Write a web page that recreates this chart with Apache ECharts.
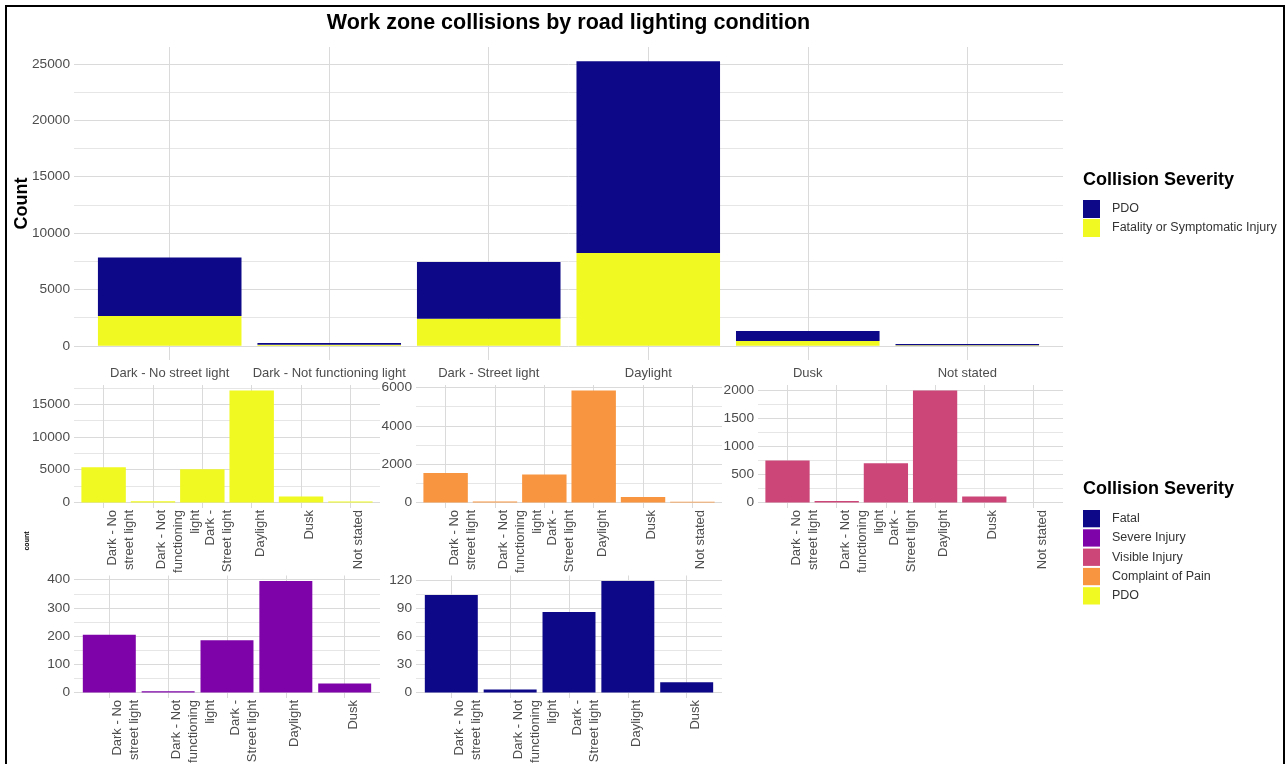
<!DOCTYPE html>
<html>
<head>
<meta charset="utf-8">
<script src="https://cdn.jsdelivr.net/npm/echarts@6/dist/echarts.min.js"></script>
<style>
html,body{margin:0;padding:0;background:#fff;}
#chart{width:1286px;height:764px;}
</style>
</head>
<body>
<div id="chart"></div>
<script>
// ---------------- data ----------------
const lighting = ['Dark - No street light', 'Dark - Not functioning light', 'Dark - Street light', 'Daylight', 'Dusk', 'Not stated'];
const lightingWrapped = ['Dark - No\nstreet light', 'Dark - Not\nfunctioning\nlight', 'Dark -\nStreet light', 'Daylight', 'Dusk', 'Not stated'];
const lightingWrapped5 = ['Dark - No\nstreet light', 'Dark - Not\nfunctioning\nlight', 'Dark -\nStreet light', 'Daylight', 'Dusk'];

const topLegend = ['PDO', 'Fatality or Symptomatic Injury'];
const topPDO = [5210, 150, 5030, 17010, 890, 110];
const topFSI = [2630, 100, 2400, 8230, 415, 40];

const severityLegend = ['Fatal', 'Severe Injury', 'Visible Injury', 'Complaint of Pain', 'PDO'];
const pdoCounts = [5390, 170, 5085, 17085, 915, 150];
const painCounts = [1530, 50, 1460, 5840, 278, 40];
const visibleCounts = [748, 24, 700, 1994, 107, 0];
const severeCounts = [205, 4, 185, 395, 32];
const fatalCounts = [104, 3, 86, 119, 11];

const topTicks = [0, 5000, 10000, 15000, 20000, 25000];
const topMinor = [2500, 7500, 12500, 17500, 22500];
const pdoTicks = [0, 5000, 10000, 15000];
const pdoMinor = [2500, 7500, 12500, 17500];
const painTicks = [0, 2000, 4000, 6000];
const painMinor = [1000, 3000, 5000];
const visibleTicks = [0, 500, 1000, 1500, 2000];
const visibleMinor = [250, 750, 1250, 1750];
const severeTicks = [0, 100, 200, 300, 400];
const severeMinor = [50, 150, 250, 350];
const fatalTicks = [0, 30, 60, 90, 120];
const fatalMinor = [15, 45, 75, 105];

// ---------------- styling / layout ----------------
const FONT = "'Liberation Sans',Arial,sans-serif";
const AXIS_TEXT = '#4d4d4d';
const MAJOR = '#dadada';
const MINOR = '#e6e6e6';
const C = {fatal: '#0d0887', severe: '#7e03a8', visible: '#cc4778', pain: '#f89540', pdo: '#f0f921'};

function expandRange(maxVal) { return [-0.05 * maxVal, 1.05 * maxVal]; }
function indices(n) { return Array.from({length: n}, (_, i) => i); }

const grids = [], xAxes = [], yAxes = [], series = [];

function addPanel(cfg) {
  const gi = grids.length;
  grids.push({left: cfg.left, top: cfg.top, width: cfg.width, height: cfg.height,
              containLabel: false, outerBoundsMode: 'none'});
  const n = cfg.labels.length;
  const pos = indices(n);
  const labelCfg = {
    customValues: pos,
    formatter: v => cfg.labels[Math.round(v)],
    showMinLabel: true, showMaxLabel: true, hideOverlap: false,
    color: AXIS_TEXT, fontFamily: FONT, fontSize: 13, margin: cfg.labelMargin
  };
  if (cfg.rotate) {
    Object.assign(labelCfg, {rotate: 90, align: 'right', verticalAlign: 'top', lineHeight: 17});
  }
  xAxes.push({
    type: 'value', gridIndex: gi, min: -0.6, max: n - 0.4,
    axisLine: {show: false, onZero: false},
    axisTick: {show: false, customValues: pos},
    axisLabel: labelCfg,
    splitLine: {show: true, lineStyle: {color: MAJOR, width: 1}}
  });
  const [lo, hi] = cfg.range;
  const yMajor = {
    type: 'value', gridIndex: gi, min: lo, max: hi, position: 'left',
    axisLine: {show: false},
    axisTick: {show: false, customValues: cfg.ticks},
    axisLabel: {customValues: cfg.ticks, formatter: v => String(v), showMinLabel: true, showMaxLabel: true,
                color: AXIS_TEXT, fontFamily: FONT, fontSize: 13.7, margin: 4},
    splitLine: {show: true, lineStyle: {color: MAJOR, width: 1}}
  };
  if (cfg.yName) Object.assign(yMajor, cfg.yName);
  yAxes.push(yMajor);
  yAxes.push({
    type: 'value', gridIndex: gi, min: lo, max: hi, position: 'right',
    axisLine: {show: false},
    axisTick: {show: false, customValues: cfg.minor},
    axisLabel: {show: false, customValues: cfg.minor},
    splitLine: {show: true, lineStyle: {color: MINOR, width: 1}}
  });
  return {xAxisIndex: gi, yAxisIndex: 2 * gi};
}

// top stacked chart
const topTotals = topPDO.map((v, i) => v + topFSI[i]);
const topAx = addPanel({
  left: 74, top: 47, width: 989, height: 313,
  labels: lighting, labelMargin: 7,
  range: expandRange(Math.max(...topTotals)),
  ticks: topTicks, minor: topMinor,
  yName: {name: 'Count', nameLocation: 'middle', nameGap: 43, nameRotate: 90, nameMoveOverlap: false,
          nameTextStyle: {fontFamily: FONT, fontSize: 18, fontWeight: 'bold', color: '#000'}}
});
// value listed first so that the stack is computed on the y (count) dimension
series.push({type: 'bar', name: 'Fatality or Symptomatic Injury', stack: 'top', barWidth: '90%',
  xAxisIndex: topAx.xAxisIndex, yAxisIndex: topAx.yAxisIndex, encode: {x: 1, y: 0},
  data: topFSI.map((v, i) => [v, i]), itemStyle: {color: C.pdo}});
series.push({type: 'bar', name: 'PDO', stack: 'top', barWidth: '90%',
  xAxisIndex: topAx.xAxisIndex, yAxisIndex: topAx.yAxisIndex, encode: {x: 1, y: 0},
  data: topPDO.map((v, i) => [v, i]), itemStyle: {color: C.fatal}});

// small multiples
const panels = [
  {name: 'PDO ', values: pdoCounts, ticks: pdoTicks, minor: pdoMinor, color: C.pdo, labels: lightingWrapped, left: 74, top: 385, width: 306, height: 123},
  {name: 'Complaint of Pain', values: painCounts, ticks: painTicks, minor: painMinor, color: C.pain, labels: lightingWrapped, left: 416, top: 385, width: 306, height: 123},
  {name: 'Visible Injury', values: visibleCounts, ticks: visibleTicks, minor: visibleMinor, color: C.visible, labels: lightingWrapped, left: 758, top: 385, width: 305, height: 123},
  {name: 'Severe Injury', values: severeCounts, ticks: severeTicks, minor: severeMinor, color: C.severe, labels: lightingWrapped5, left: 74, top: 575.5, width: 306, height: 122.5},
  {name: 'Fatal', values: fatalCounts, ticks: fatalTicks, minor: fatalMinor, color: C.fatal, labels: lightingWrapped5, left: 416, top: 575.5, width: 306, height: 122.5}
];
panels.forEach(p => {
  const ax = addPanel({
    left: p.left, top: p.top, width: p.width, height: p.height,
    labels: p.labels, labelMargin: 2, rotate: true,
    range: expandRange(Math.max(...p.values)),
    ticks: p.ticks, minor: p.minor
  });
  series.push({type: 'bar', name: p.name, barWidth: '90%',
    xAxisIndex: ax.xAxisIndex, yAxisIndex: ax.yAxisIndex,
    data: p.values.map((v, i) => [i, v]), itemStyle: {color: p.color}});
});

const legendText = {fontFamily: FONT, fontSize: 12.5, color: '#333', padding: [0, 0, 0, 7]};
const titleFont = {fontFamily: FONT, fontSize: 18, fontWeight: 'bold', color: '#000'};

const option = {
  animation: false,
  backgroundColor: '#fff',
  title: [
    {text: 'Work zone collisions by road lighting condition', left: 568.5, top: 12, padding: 0, textAlign: 'center',
     textStyle: {fontFamily: FONT, fontSize: 21.5, fontWeight: 'bold', color: '#000'}},
    {text: 'Collision Severity', left: 1083, top: 171, padding: 0, textAlign: 'left', textStyle: titleFont},
    {text: 'Collision Severity', left: 1083, top: 480, padding: 0, textAlign: 'left', textStyle: titleFont}
  ],
  legend: [
    {data: topLegend, orient: 'vertical', left: 1083, top: 200, padding: 0, icon: 'rect',
     itemWidth: 17, itemHeight: 18, itemGap: 1, selectedMode: false, textStyle: legendText},
    {data: severityLegend.map(s => s === 'PDO' ? 'PDO ' : s), orient: 'vertical', left: 1083, top: 510, padding: 0, icon: 'rect',
     itemWidth: 17, itemHeight: 17.3, itemGap: 2, selectedMode: false, textStyle: legendText,
     formatter: n => n.trim()}
  ],
  grid: grids,
  xAxis: xAxes,
  yAxis: yAxes,
  series: series,
  graphic: [
    {type: 'rect', silent: true, z: 100, shape: {x: 6, y: 6, width: 1278, height: 820},
     style: {fill: 'none', stroke: '#000', lineWidth: 2}},
    {type: 'text', silent: true, x: 27, y: 541, rotation: Math.PI / 2,
     style: {text: 'count', fill: '#000', font: 'bold 7px ' + FONT, textAlign: 'center', textVerticalAlign: 'middle'}}
  ]
};

const chart = echarts.init(document.getElementById('chart'), null, {renderer: 'canvas'});
chart.setOption(option);
</script>
</body>
</html>
